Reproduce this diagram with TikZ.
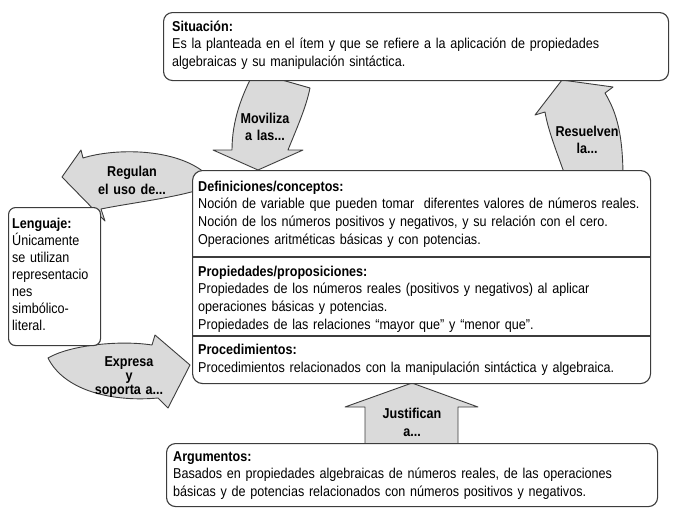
\documentclass[tikz,border=0pt]{standalone}
\usepackage{fontspec}
\setmainfont{Liberation Sans}[FakeStretch=0.88]
\definecolor{edgegray}{HTML}{3C3C3C}
\definecolor{arrowgray}{HTML}{DADADA}
\tikzset{
  bigarrow/.style={draw=edgegray, fill=arrowgray, line width=0.9pt, line join=round},
  infobox/.style={draw=edgegray, fill=white, line width=1.1pt, rounded corners=9pt, anchor=north west, inner sep=0pt},
  divider/.style={draw=edgegray, line width=1.1pt},
  textblock/.style={anchor=base west, inner sep=0pt, text width=460pt, align=left, font=\fontsize{14.3}{17.6}\selectfont},
  arrowlabel/.style={anchor=base, inner sep=0pt, text width=90pt, align=center, font=\fontsize{14.3}{17}\selectfont\bfseries},
}
\begin{document}
\begin{tikzpicture}[x=1pt,y=-1pt]
\useasboundingbox (0,0) rectangle (683,514);

% block arrows (drawn first, boxes cover their ends)
\draw[bigarrow] (254,72) .. controls (242,95) and (232,120) .. (232,150) -- (213,150) -- (258,170) -- (303,150) -- (288,150) .. controls (296,130) and (306,108) .. (310,88) -- cycle;
\draw[bigarrow] (566,178) .. controls (556,150) and (548,130) .. (545,112) -- (535,115) -- (562,80) -- (613,87) -- (605,93) .. controls (615,110) and (623,130) .. (623,178) -- cycle;
\draw[bigarrow] (205,173) .. controls (175,148) and (115,148) .. (83,158) -- (81,150) -- (62,177) -- (105,221) -- (101,209) .. controls (130,203) and (175,198) .. (205,188) -- cycle;
\draw[bigarrow] (48,358) .. controls (70,345) and (120,340) .. (152,345) -- (155,335) -- (190,365) -- (168,408) -- (158,398) .. controls (115,402) and (65,392) .. (48,358) -- cycle;
\draw[bigarrow] (365,446) -- (365,407) -- (345,407) -- (412,383) -- (478,407) -- (458,407) -- (458,446) -- cycle;

% boxes
\node[infobox, minimum width=505pt, minimum height=68pt] (sitbox) at (163,12) {};
\node[infobox, rounded corners=10pt, minimum width=458pt, minimum height=213pt] (mainbox) at (192,170) {};
\node[infobox, rounded corners=7pt, minimum width=92pt, minimum height=138pt] (lenbox) at (8,207) {};
\node[infobox, minimum width=491pt, minimum height=63pt] (argbox) at (166,443) {};
\draw[divider] (192,257) -- (650,257);
\draw[divider] (192,336) -- (650,336);

% box texts
\node[textblock] (sittext) at (172,31.2) {\textbf{Situación:}\\Es la planteada en el ítem y que se refiere a la aplicación de propiedades\\algebraicas y su manipulación sintáctica.};
\node[textblock] (deftext) at (198,191.2) {\textbf{Definiciones/conceptos:}\\Noción de variable que pueden tomar~ diferentes valores de números reales.\\Noción de los números positivos y negativos, y su relación con el cero.\\Operaciones aritméticas básicas y con potencias.};
\node[textblock] (proptext) at (198,276.2) {\textbf{Propiedades/proposiciones:}\\Propiedades de los números reales (positivos y negativos) al aplicar\\operaciones básicas y potencias.\\Propiedades de las relaciones “mayor que” y “menor que”.};
\node[textblock] (proctext) at (198,354.5) {\textbf{Procedimientos:}\\Procedimientos relacionados con la manipulación sintáctica y algebraica.};
\node[textblock, font=\fontsize{14.3}{17}\selectfont] (lentext) at (12,228) {\textbf{Lenguaje:}\\Únicamente\\se utilizan\\representacio\\nes\\simbólico-\\literal.};
\node[textblock] (argtext) at (173,461.2) {\textbf{Argumentos:}\\Basados en propiedades algebraicas de números reales, de las operaciones\\básicas y de potencias relacionados con números positivos y negativos.};

% arrow labels
\node[arrowlabel] (movlabel) at (265,123) {Moviliza\\a las...};
\node[arrowlabel] (reslabel) at (587,136) {Resuelven\\la...};
\node[arrowlabel, font=\fontsize{14.3}{18}\selectfont\bfseries] (reglabel) at (132,176) {Regulan\\el uso de...};
\node[arrowlabel, font=\fontsize{14.3}{18}\selectfont\bfseries] (juslabel) at (412,418) {Justifican\\a...};
\node[arrowlabel, font=\fontsize{14.3}{14}\selectfont\bfseries] (explabel) at (129,366) {Expresa\\y\\soporta a...};
\end{tikzpicture}
\end{document}
